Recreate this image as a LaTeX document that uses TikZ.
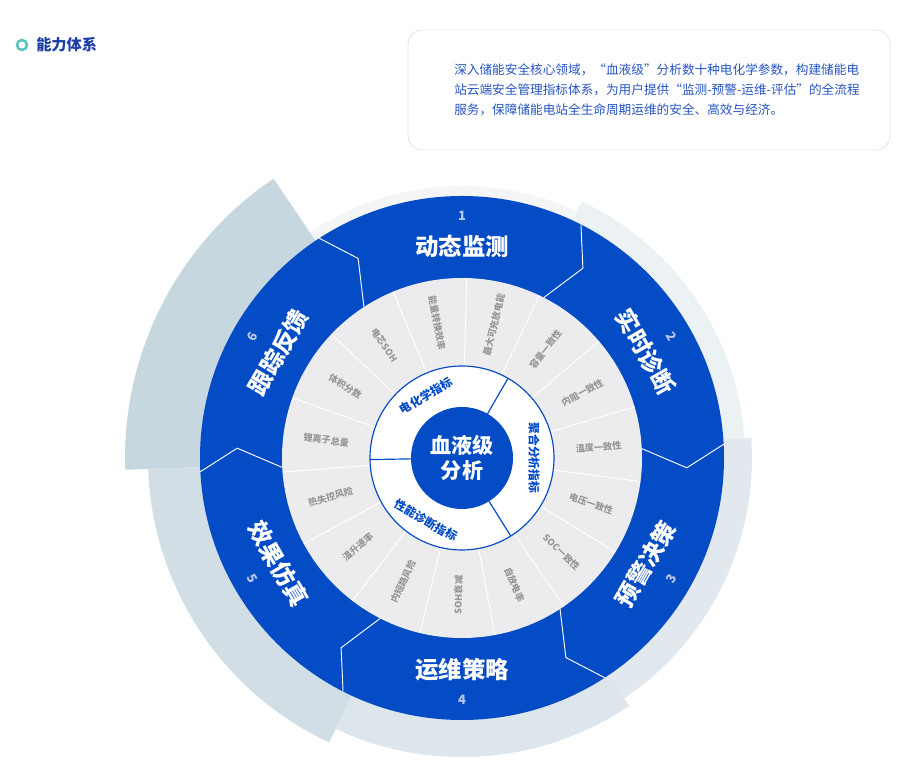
\documentclass[tikz,border=0pt]{standalone}
\usepackage{fontspec}
\setmainfont{Noto Sans CJK SC}
\definecolor{ringblue}{HTML}{044BC6}
\definecolor{wedgegray}{HTML}{ECECEF}
\definecolor{labelgray}{HTML}{979797}
\definecolor{numblue}{HTML}{B9C9EA}
\definecolor{titleblue}{HTML}{1B3FA6}
\definecolor{textblue}{HTML}{2654C4}
\definecolor{teal}{HTML}{5CC3BF}
\definecolor{shadea}{HTML}{F3F5F7}
\definecolor{shadeb}{HTML}{ECF1F4}
\definecolor{shadec}{HTML}{E2E9EE}
\definecolor{shaded}{HTML}{DCE6EC}
\definecolor{shadee}{HTML}{D2DEE6}
\definecolor{shadef}{HTML}{C7D7E0}
\tikzset{every path/.style={line width=.6pt},
  seglabel/.style={text=white,font=\bfseries\fontsize{20}{22}\selectfont},
  segnum/.style={text=numblue,font=\bfseries\fontsize{11}{12}\selectfont},
  ringlabel/.style={text=ringblue,font=\bfseries\fontsize{10}{11}\selectfont},
  wedgelabel/.style={text=labelgray,font=\bfseries\fontsize{7.8}{8}\selectfont}}

\begin{document}
\begin{tikzpicture}[x=0.03cm,y=0.03cm]
\useasboundingbox (0,0) rectangle (911,763);

% header
\draw[teal,line width=2.2pt] (22,718) circle[radius=5];
\node[anchor=west,text=titleblue,font=\bfseries\fontsize{13}{14}\selectfont] (title) at (32,718) {能力体系};
\draw[black!10,line width=.8pt,rounded corners=12pt] (408,733) rectangle (890,613);
\begin{scope}[every node/.style={anchor=west,text=textblue,font=\fontsize{10.8}{12}\selectfont}]
\node (para1) at (450,693) {深入储能安全核心领域，“血液级”分析数十种电化学参数，构建储能电};
\node (para2) at (450,673) {站云端安全管理指标体系，为用户提供“监测-预警-运维-评估”的全流程};
\node (para3) at (450,653) {服务，保障储能电站全生命周期运维的安全、高效与经济。};
\end{scope}

\begin{scope}[shift={(462,305)}]
% shadows
\fill[shadea] (0,0) -- (63:272) arc[start angle=63,end angle=124,radius=272] -- cycle;
\fill[shadeb] (0,0) -- (3:283) arc[start angle=3,end angle=65,radius=283] -- cycle;
\fill[shadec] (0,0) -- (-57:290) arc[start angle=-57,end angle=4,radius=290] -- cycle;
\fill[shaded] (0,0) -- (-115:299) arc[start angle=-115,end angle=-56,radius=299] -- cycle;
\fill[shadee] (0,0) -- (182:314) arc[start angle=182,end angle=245,radius=314] -- cycle;
\fill[shadef] (0,0) -- (124:337) arc[start angle=124,end angle=182,radius=337] -- cycle;

% outer blue ring
\fill[ringblue] (0,0) circle[radius=262];
\foreach \a in {3,63,...,303}
  \draw[white,line width=.8pt] (\a:262) -- (\a-5.5:225) -- (\a:180);
\foreach \a/\t/\n [count=\i] in {90/动态监测/1,30/实时诊断/2,-30/预警决策/3,-90/运维策略/4,-150/效果仿真/5,150/跟踪反馈/6}{
  \pgfmathsetmacro\rot{ifthenelse(\a>0,\a-90,\a+90)}
  \node[seglabel,rotate=\rot] (seg\i) at (\a:212) {\t};
  \node[segnum,rotate=\rot] (num\i) at (\a:242) {\n};
}

% gray wedges
\fill[wedgegray] (0,0) circle[radius=180];
\foreach \a in {16.5,40.5,...,352.5}
  \draw[white,line width=.8pt] (\a:92) -- (\a:180);
\foreach \a/\t [count=\i] in {4.5/温度一致性,28.5/内阻一致性,52.5/容量一致性,76.5/最大可充放电能,
    100.5/能量转换效率,124.5/电芯SOH,148.5/体积分数,172.5/锂离子总量,196.5/热失控风险,
    220.5/温升速率,244.5/内短路风险,268.5/SOH衰减,292.5/自放电率,316.5/SOC一致性,340.5/电压一致性}{
  \pgfmathsetmacro\rot{ifthenelse(and(\a>90,\a<270),\a-180,\a)}
  \node[wedgelabel,rotate=\rot] (w\i) at (\a:137) {\t};
}

% white ring
\draw[ringblue,fill=white,line width=1pt] (0,0) circle[radius=92];
\foreach \a in {60,181,302}
  \draw[ringblue,line width=1pt] (\a:51) -- (\a:92);
\node[ringlabel,rotate=30] (chem) at (120:72) {电化学指标};
\node[ringlabel,rotate=-90] (aggr) at (0:72) {聚合分析指标};
\node[ringlabel,rotate=-30] (perf) at (240:72) {性能诊断指标};

% centre
\fill[ringblue] (0,0) circle[radius=51];
\node[text=white,align=center,font=\bfseries\fontsize{18}{22}\selectfont] (core) at (0,0) {血液级\\分析};
\end{scope}
\end{tikzpicture}
\end{document}
